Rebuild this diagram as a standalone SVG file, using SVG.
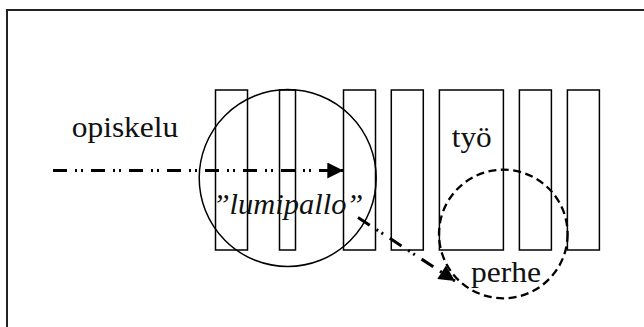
<svg xmlns="http://www.w3.org/2000/svg" width="644" height="327" viewBox="0 0 644 327">
<style>
.bar{fill:none;stroke:#000;stroke-width:1.5}
.lbl{font-family:"Liberation Serif",serif;font-size:30px;fill:#111}
.flow{fill:none;stroke:#000;stroke-width:3;stroke-dasharray:14 8 2 4 2 8}
</style>
<defs>
<marker id="ah" viewBox="0 0 10 10" refX="10" refY="5" markerWidth="17" markerHeight="16" markerUnits="userSpaceOnUse" orient="auto">
<path d="M0,0 L10,5 L0,10 Z" fill="#000"/>
</marker>
</defs>
<rect x="7" y="10" width="660" height="340" fill="none" stroke="#222" stroke-width="2"/>
<g id="bars">
<rect class="bar" x="215.5" y="90" width="32" height="160"/>
<rect class="bar" x="279.5" y="90" width="16" height="160"/>
<rect class="bar" x="343.5" y="90" width="32" height="160"/>
<rect class="bar" x="391.3" y="90" width="32" height="160"/>
<rect class="bar" x="439.4" y="90" width="64" height="160"/>
<rect class="bar" x="519.4" y="90" width="32" height="160"/>
<rect class="bar" x="567.4" y="90" width="32" height="160"/>
</g>
<g id="lumipallo">
<circle cx="287.7" cy="178" r="88.5" fill="none" stroke="#000" stroke-width="1.5"/>
<text class="lbl" x="212.7" y="214.3" font-style="italic" textLength="150.6" lengthAdjust="spacingAndGlyphs">”lumipallo”</text>
</g>
<g id="perhe">
<circle cx="503.3" cy="234" r="64.3" fill="none" stroke="#000" stroke-width="2.3" stroke-dasharray="8 4.5"/>
<text class="lbl" x="471" y="282" textLength="70" lengthAdjust="spacingAndGlyphs">perhe</text>
</g>
<g id="opiskelu">
<text class="lbl" x="71.7" y="137.3" textLength="106.6" lengthAdjust="spacingAndGlyphs">opiskelu</text>
</g>
<g id="tyo">
<text class="lbl" x="451.7" y="146.7" textLength="40" lengthAdjust="spacingAndGlyphs">työ</text>
</g>
<g id="connectors">
<line class="flow" x1="53" y1="170.5" x2="343.3" y2="170.5" marker-end="url(#ah)"/>
<line class="flow" x1="358" y1="217.5" x2="455" y2="281" marker-end="url(#ah)"/>
</g>
</svg>
